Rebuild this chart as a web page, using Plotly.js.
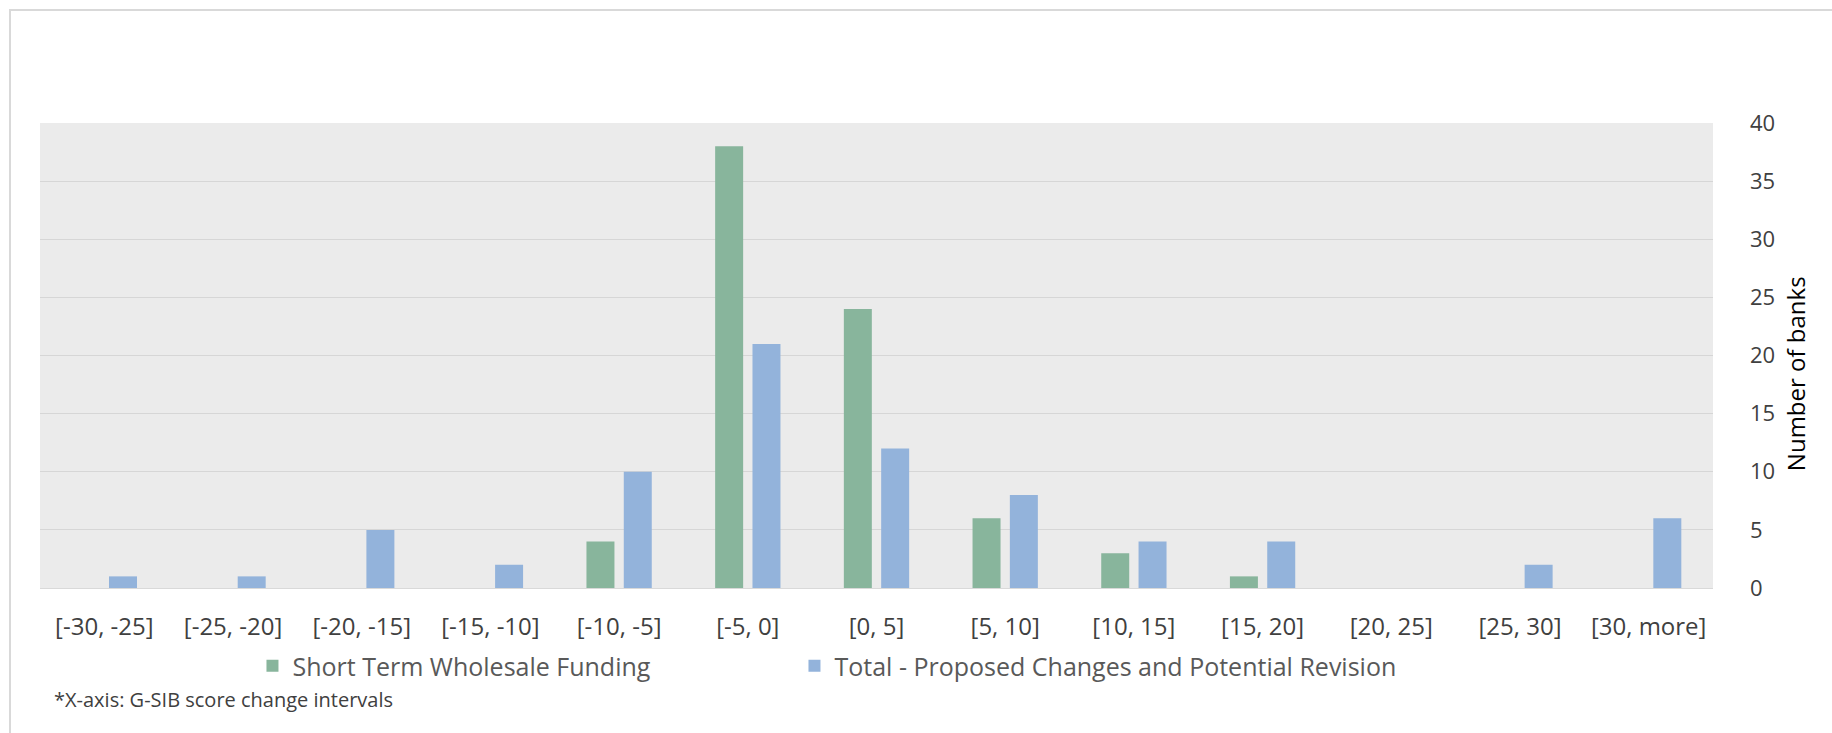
<!DOCTYPE html>
<html>
<head>
<meta charset="utf-8">
<script src="https://cdn.plot.ly/plotly-3.0.1.min.js"></script>
<style>
  html, body { margin: 0; padding: 0; background: #ffffff; }
  #wrap { position: relative; width: 1832px; height: 733px; overflow: hidden; }
  #frame { position: absolute; left: 9px; top: 9px; width: 1900px; height: 800px;
           border-left: 2px solid #D9D9D9; border-top: 2px solid #D9D9D9; pointer-events: none; z-index: 5; }
  #chart { position: absolute; left: 0; top: 0; width: 1832px; height: 733px; }
</style>
</head>
<body>
<div id="wrap">
  <div id="chart"></div>
  <div id="frame"></div>
</div>
<script>
// G-SIB score change intervals
const categories = ['[-30, -25]', '[-25, -20]', '[-20, -15]', '[-15, -10]', '[-10, -5]', '[-5, 0]',
                    '[0, 5]', '[5, 10]', '[10, 15]', '[15, 20]', '[20, 25]', '[25, 30]', '[30, more]'];
// Number of banks per interval
const shortTermWholesaleFunding = [0, 0, 0, 0, 4, 38, 24, 6, 3, 1, 0, 0, 0];
const totalProposedChanges      = [1, 1, 5, 2, 10, 21, 12, 8, 4, 4, 0, 2, 6];
const yTicks = [0, 5, 10, 15, 20, 25, 30, 35, 40];

const FONT = 'Open Sans, Noto Sans, DejaVu Sans, sans-serif';

const traces = [
  {
    type: 'bar', name: 'Short Term Wholesale Funding',
    x: categories, y: shortTermWholesaleFunding,
    marker: { color: '#88B59C' }, hoverinfo: 'x+y+name',
    legendwidth: 497
  },
  {
    type: 'bar', name: 'Total - Proposed Changes and Potential Revision',
    x: categories, y: totalProposedChanges,
    marker: { color: '#93B3DB' }, hoverinfo: 'x+y+name',
    legendwidth: 620
  }
];

const layout = {
  width: 1832, height: 733,
  margin: { l: 40, r: 119, t: 123, b: 145, pad: 0 },
  paper_bgcolor: '#ffffff',
  plot_bgcolor: '#EBEBEB',
  barmode: 'group',
  bargap: 0.42,
  bargroupgap: 0.25,
  showlegend: true,
  legend: {
    orientation: 'h',
    x: 0.127, xanchor: 'left',
    y: -0.168, yanchor: 'middle',
    font: { family: FONT, size: 25, color: '#595959' },
    bgcolor: 'rgba(0,0,0,0)',
    itemclick: false, itemdoubleclick: false
  },
  xaxis: {
    type: 'category',
    tickfont: { family: FONT, size: 24, color: '#404040' },
    ticks: '', ticklabelstandoff: 17,
    showline: true, linecolor: '#D9D9D9', linewidth: 1,
    showgrid: false, fixedrange: true
  },
  yaxis: {
    side: 'right',
    range: [0, 40],
    tickvals: yTicks,
    ticktext: yTicks.map(String),
    tickfont: { family: FONT, size: 22, color: '#404040' },
    ticks: '', ticklabelstandoff: 36,
    showgrid: true, gridcolor: '#D6D6D6', gridwidth: 1,
    zeroline: false, showline: false, fixedrange: true
  },
  annotations: [
    {
      text: 'Number of banks', textangle: -90,
      xref: 'paper', yref: 'paper', x: 1.049, y: 0.462,
      xanchor: 'center', yanchor: 'middle', showarrow: false,
      font: { family: FONT, size: 24, color: '#000000' }
    },
    {
      text: '*X-axis: G-SIB score change intervals',
      xref: 'paper', yref: 'paper', x: (52 - 40) / 1673, y: -0.24,
      xanchor: 'left', yanchor: 'middle', showarrow: false,
      font: { family: FONT, size: 20, color: '#404040' }
    }
  ]
};

Plotly.newPlot('chart', traces, layout, { displayModeBar: false, staticPlot: false });
</script>
</body>
</html>
